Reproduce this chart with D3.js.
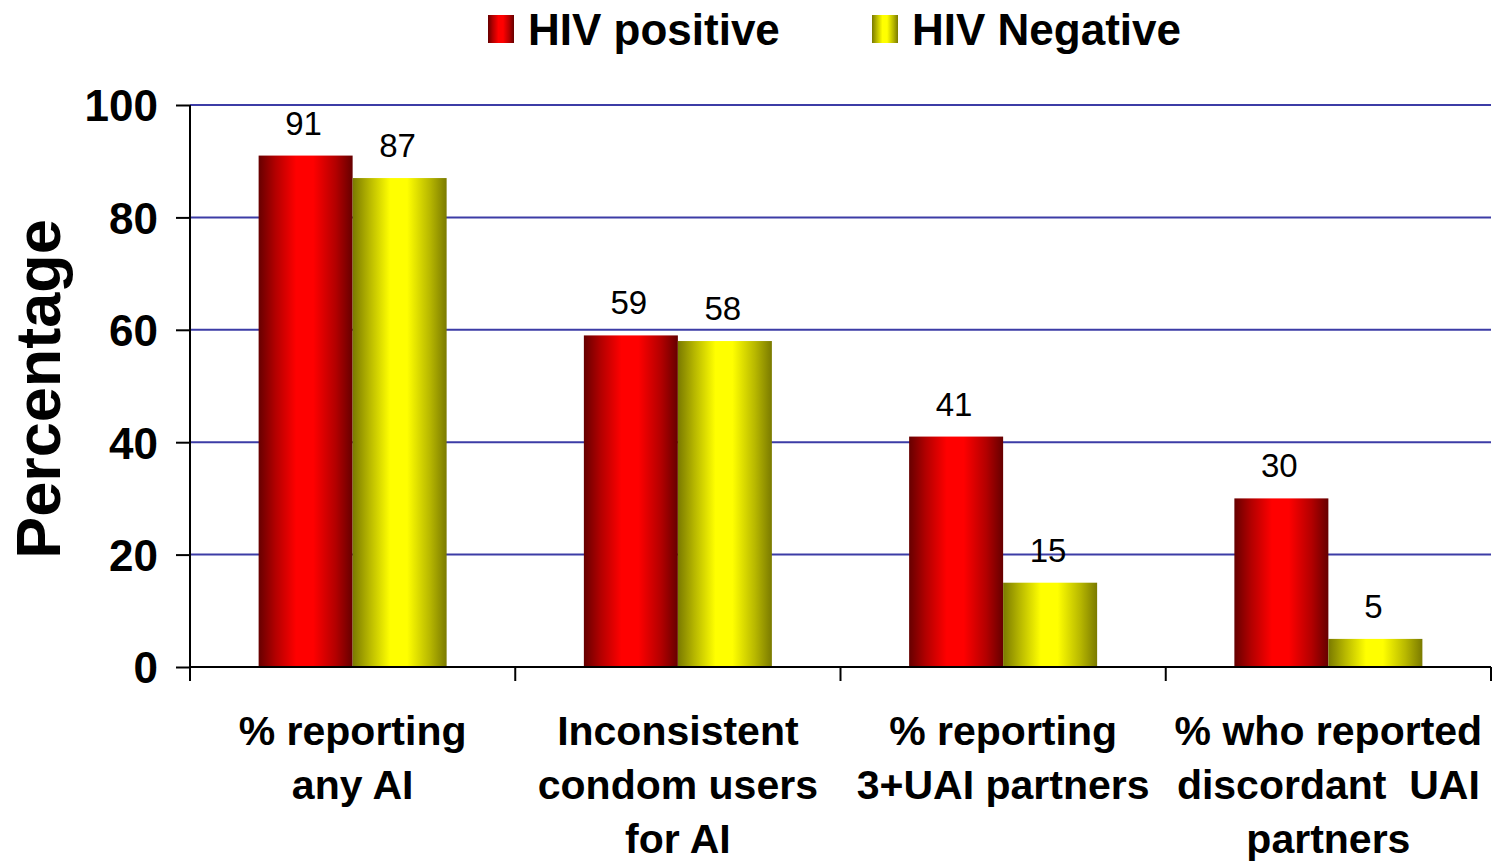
<!DOCTYPE html>
<html>
<head>
<meta charset="utf-8">
<script src="https://cdn.jsdelivr.net/npm/d3@7"></script>
<style>
  body { margin: 0; background: #fff; }
  svg { display: block; font-family: "Liberation Sans", Arial, sans-serif; }
</style>
</head>
<body>
<div id="chart"></div>
<script>
var categories = [
    ["% reporting", "any AI"],
    ["Inconsistent", "condom users", "for AI"],
    ["% reporting", "3+UAI partners"],
    ["% who reported", "discordant  UAI", "partners"]
];
var seriesNames = ["HIV positive", "HIV Negative"];
var hivPositive = [91, 59, 41, 30];
var hivNegative = [87, 58, 15, 5];
var yTicks = [0, 20, 40, 60, 80, 100];

var width = 1493,
    height = 862,
    margin = {left: 190, right: 2, top: 105, bottom: 195};

var svg = d3.select("#chart")
    .append("svg")
    .attr("width", width)
    .attr("height", height);

var defs = svg.append("defs");

function barGradient(id, dark, mid, bright) {
    var g = defs.append("linearGradient")
        .attr("id", id)
        .attr("x1", "0%").attr("x2", "100%")
        .attr("y1", "0%").attr("y2", "0%");
    g.append("stop").attr("offset", "0%").attr("stop-color", dark);
    g.append("stop").attr("offset", "18%").attr("stop-color", mid);
    g.append("stop").attr("offset", "40%").attr("stop-color", bright);
    g.append("stop").attr("offset", "58%").attr("stop-color", bright);
    g.append("stop").attr("offset", "82%").attr("stop-color", mid);
    g.append("stop").attr("offset", "100%").attr("stop-color", dark);
}
barGradient("gradRed", "#660000", "#b30000", "#ff0000");
barGradient("gradYellow", "#7a7a00", "#b8b800", "#ffff00");
var fills = ["url(#gradRed)", "url(#gradYellow)"];

var x0 = d3.scaleBand()
    .domain(d3.range(categories.length))
    .range([margin.left, width - margin.right])
    .padding(0);

var x1 = d3.scaleBand()
    .domain(d3.range(seriesNames.length))
    .range([0, x0.bandwidth()])
    .paddingInner(0)
    .paddingOuter(0.73);

var y = d3.scaleLinear()
    .domain([0, 100])
    .range([height - margin.bottom, margin.top]);

// gridlines
svg.append("g")
    .selectAll("line")
    .data(yTicks.filter(function (d) { return d > 0; }))
    .enter()
    .append("line")
    .attr("x1", margin.left)
    .attr("x2", width - margin.right)
    .attr("y1", function (d) { return y(d); })
    .attr("y2", function (d) { return y(d); })
    .attr("stroke", "#3c3ca6")
    .attr("stroke-width", 2);

// bars
var rows = categories.map(function (c, i) {
    return [hivPositive[i], hivNegative[i]];
});

var groups = svg.append("g")
    .selectAll("g")
    .data(rows)
    .enter()
    .append("g")
    .attr("transform", function (d, i) { return "translate(" + x0(i) + ",0)"; });

groups.selectAll("rect")
    .data(function (d) { return d; })
    .enter()
    .append("rect")
    .attr("x", function (d, j) { return x1(j); })
    .attr("width", x1.bandwidth())
    .attr("y", function (d) { return y(d); })
    .attr("height", function (d) { return y(0) - y(d); })
    .attr("fill", function (d, j) { return fills[j]; });

groups.selectAll("text")
    .data(function (d) { return d; })
    .enter()
    .append("text")
    .attr("x", function (d, j) { return x1(j) + x1.bandwidth() / 2 - 2; })
    .attr("y", function (d) { return y(d) - 21; })
    .attr("text-anchor", "middle")
    .attr("font-size", 33)
    .attr("fill", "#000")
    .text(function (d) { return d; });

// y axis
var yAxis = d3.axisLeft(y)
    .tickValues(yTicks)
    .tickSize(14)
    .tickPadding(18);

var yg = svg.append("g")
    .attr("transform", "translate(" + margin.left + ",0)")
    .call(yAxis);
yg.select(".domain").remove();
yg.append("line")
    .attr("x1", 0).attr("x2", 0)
    .attr("y1", y(100)).attr("y2", y(0) + 14)
    .attr("stroke", "#000").attr("stroke-width", 2);
yg.selectAll(".tick line").attr("stroke", "#000").attr("stroke-width", 2);
yg.selectAll(".tick text")
    .attr("font-family", "'Liberation Sans', Arial, sans-serif")
    .attr("font-size", 44)
    .attr("font-weight", "bold")
    .attr("fill", "#000")
    .attr("dy", "0.36em");

// x axis
svg.append("line")
    .attr("x1", margin.left)
    .attr("x2", width - margin.right)
    .attr("y1", y(0)).attr("y2", y(0))
    .attr("stroke", "#000").attr("stroke-width", 2);

svg.append("g")
    .selectAll("line")
    .data(d3.range(categories.length + 1))
    .enter()
    .append("line")
    .attr("x1", function (i) { return i < categories.length ? x0(i) : x0.range()[1]; })
    .attr("x2", function (i) { return i < categories.length ? x0(i) : x0.range()[1]; })
    .attr("y1", y(0))
    .attr("y2", y(0) + 14)
    .attr("stroke", "#000").attr("stroke-width", 2);

var labels = svg.append("g")
    .selectAll("text")
    .data(categories)
    .enter()
    .append("text")
    .attr("text-anchor", "middle")
    .attr("font-size", 41)
    .attr("font-weight", "bold")
    .attr("fill", "#000")
    .style("white-space", "pre");

labels.selectAll("tspan")
    .data(function (d, i) { return d.map(function (t) { return {t: t, i: i}; }); })
    .enter()
    .append("tspan")
    .attr("x", function (d) { return x0(d.i) + x0.bandwidth() / 2; })
    .attr("y", function (d, k) { return y(0) + 78 + k * 54; })
    .text(function (d) { return d.t; });

// y title
svg.append("text")
    .attr("transform", "translate(60," + (y(50) + 3) + ") rotate(-90)")
    .attr("text-anchor", "middle")
    .attr("font-size", 63)
    .attr("font-weight", "bold")
    .attr("fill", "#000")
    .text("Percentage");

// legend
var legendX = [488, 872];
var legend = svg.append("g")
    .selectAll("g")
    .data(seriesNames)
    .enter()
    .append("g")
    .attr("transform", function (d, i) { return "translate(" + legendX[i] + ",0)"; });

legend.append("rect")
    .attr("x", 0).attr("y", 15)
    .attr("width", 26).attr("height", 28)
    .attr("fill", function (d, i) { return fills[i]; });

legend.append("text")
    .attr("x", 40)
    .attr("y", 45)
    .attr("font-size", 44)
    .attr("font-weight", "bold")
    .attr("fill", "#000")
    .text(function (d) { return d; });
</script>
</body>
</html>
